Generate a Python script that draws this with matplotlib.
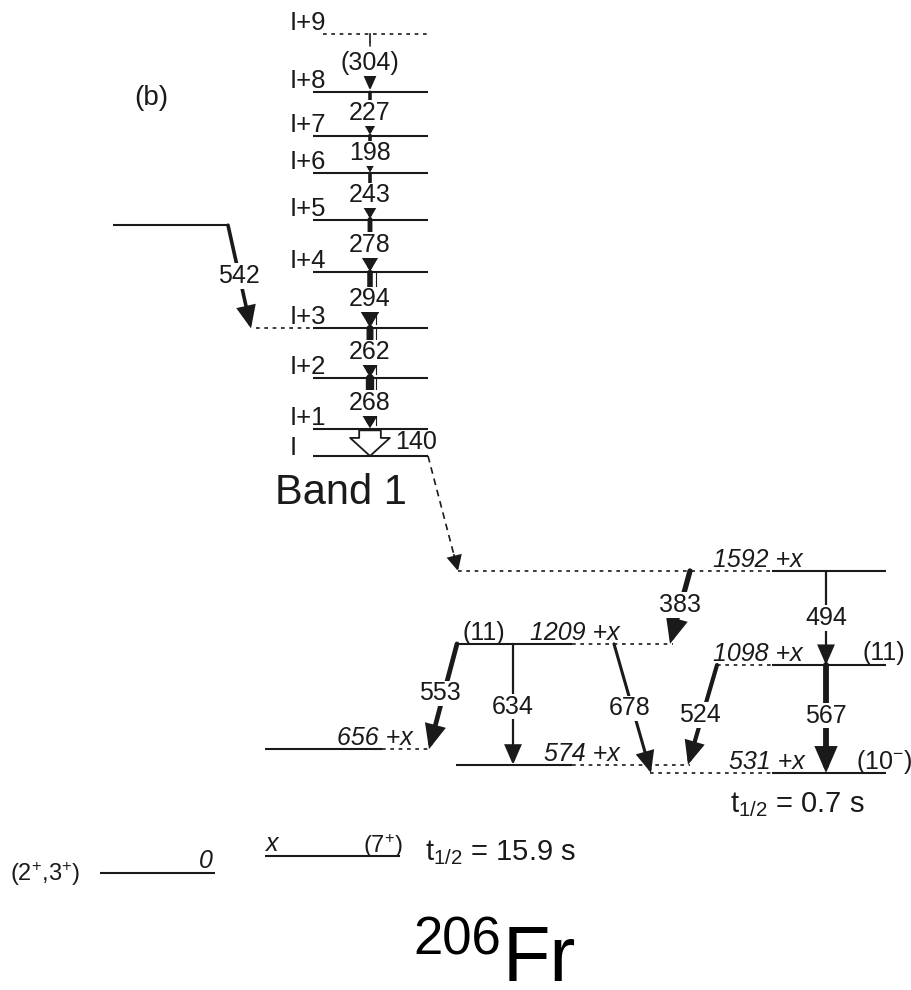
import numpy as np
import matplotlib.pyplot as plt

plt.rcParams['font.family'] = ['Liberation Sans', 'DejaVu Sans']
plt.rcParams['mathtext.fontset'] = 'custom'
plt.rcParams['mathtext.rm'] = 'Liberation Sans'
plt.rcParams['mathtext.it'] = 'Liberation Sans:italic'

# --- data -------------------------------------------------------------
# Band 1: levels I ... I+9 and the in-band gamma energies (keV)
band_labels = ["I", "I+1", "I+2", "I+3", "I+4", "I+5", "I+6", "I+7", "I+8", "I+9"]
band_gammas = [140, 268, 262, 294, 278, 243, 198, 227, 304]
feed_gamma = 542          # feeds I+3 from the side
feed_level = "I+3"

# levels below the band (energy relative to x, keV)
low_levels = [531, 574, 656, 1098, 1209, 1592]
low_spins = {531: "(10$^{\\mathregular{-}}$)", 1098: "(11)", 1209: "(11)"}
# transitions (initial level, final level) and their gamma energies
low_gammas = [(1592, 1209), (1592, 1098), (1098, 531), (1209, 656),
              (1209, 574), (1209, 531), (1098, 574)]
low_gamma_e = [383, 494, 567, 553, 634, 678, 524]

isomer_spin = "(7$^{\\mathregular{+}}$)"
isomer_t12 = "15.9 s"
gs_spin = "(2$^{\\mathregular{+}}$,3$^{\\mathregular{+}}$)"
t12_531 = "0.7 s"

# --- layout -----------------------------------------------------------
PX = 5200 / 990           # keV per pixel on the vertical axis
BAND_BASE = 2196          # where level I is drawn
X_POS = 95                # where level x is drawn
GS_POS = 5                # where the ground state is drawn
INK = "#1a1a1a"
DOT = (0, (2.2, 2.8))
FS = 18

fig = plt.figure(figsize=(9.12, 9.9), dpi=100)
ax = fig.add_axes([0, 0, 1, 1])
ax.set_xlim(0, 912)
ax.set_ylim(-609, 4591)
ax.axis("off")


def hline(x0, x1, e, dashed=False):
    ax.plot([x0, x1], [e, e], color=INK, lw=1.2 if dashed else 1.5,
            ls=DOT if dashed else "-", solid_capstyle="butt")


def arrow(x0, e0, x1, e1, lw, hl=0.6, hw=0.26, ms=20):
    ax.annotate("", xy=(x1, e1), xytext=(x0, e0),
                arrowprops=dict(arrowstyle=f"-|>,head_length={hl},head_width={hw}",
                                lw=lw, color=INK, shrinkA=0, shrinkB=0,
                                mutation_scale=ms, joinstyle="miter"))


def glabel(x, e, txt, size=FS, ha="center"):
    ax.text(x, e, txt, ha=ha, va="center", fontsize=size, color=INK, zorder=6,
            bbox=dict(fc="white", ec="none", pad=0.5))


# --- Band 1 -----------------------------------------------------------
band_e = BAND_BASE + np.concatenate([[0], np.cumsum(band_gammas)])
for lab, e in zip(band_labels, band_e):
    if lab == "I+9":
        hline(323, 428, e, dashed=True)
    else:
        hline(313, 428, e)
    off = 1 if lab == "I" else 4
    ax.text(290, e + off * PX, lab, fontsize=FS + 0.5, color=INK, va="baseline", ha="left")

band_lw = [None, 6, 5, 4, 3.5, 2.6, 2.6, 2.6, 1.2]
band_thin = [False, True, True, True, False, False, False, False, False]
BX = 370
for k in range(1, len(band_gammas)):
    e_hi, e_lo = band_e[k + 1], band_e[k]
    if k == len(band_gammas) - 1:
        # tentative (304): dashed line
        ax.plot([BX, BX], [e_hi, e_hi - 8 * PX], color=INK, lw=1.2)
        ax.plot([BX, BX], [e_hi - 8 * PX, e_lo + 12 * PX], color=INK, lw=1.1, ls=(0, (3, 3)))
        arrow(BX, e_lo + 16 * PX, BX, e_lo + 2 * PX, 1.4, hl=0.45, hw=0.2, ms=18)
        glabel(BX, (e_hi + e_lo) / 2, f"({band_gammas[k]})")
        continue
    arrow(BX, e_hi, BX, e_lo + 1 * PX, band_lw[k], hl=0.3, hw=0.18, ms=18)
    if band_thin[k]:
        ax.plot([BX + 6, BX + 6], [e_hi, e_lo + 4 * PX], color=INK, lw=0.8)
    glabel(BX, (e_hi + e_lo) / 2 + 1 * PX, str(band_gammas[k]))

# hollow 140 keV arrow I+1 -> I
ax.annotate("", xy=(BX, band_e[0]), xytext=(BX, band_e[1] - 1 * PX),
            arrowprops=dict(arrowstyle="simple,head_length=0.5,head_width=1.1,tail_width=0.6",
                            fc="white", ec=INK, lw=1.3, shrinkA=0, shrinkB=0,
                            mutation_scale=26))
ax.text(395, (band_e[0] + band_e[1]) / 2 + 1 * PX, str(band_gammas[0]),
        fontsize=FS, color=INK, va="center", ha="left")

# side feeding 542
e_feed_to = band_e[band_labels.index(feed_level)]
e_feed = e_feed_to + feed_gamma
hline(113, 228, e_feed)
arrow(228, e_feed, 251, e_feed_to, 2.6)
glabel(239, (e_feed + e_feed_to) / 2 + 1 * PX, str(feed_gamma))
hline(256, 312, e_feed_to, dashed=True)

ax.text(275, band_e[0] - 48 * PX, "Band 1", fontsize=30, color=INK, va="baseline")
ax.text(134, band_e[-1] - 71 * PX, "(b)", fontsize=20, color=INK, va="baseline")

# decay out of the band into 1592 + x
ax.plot([428, 455], [band_e[0], 1592 + 12 * PX], color=INK, lw=1.2, ls=(0, (4, 3)))
arrow(454, 1592 + 16 * PX, 458, 1592, 1.4, hl=0.5, hw=0.25, ms=18)

# --- low-lying levels --------------------------------------------------
level_draw = {
    1592: ((772, 886), (458, 772), 803),
    1209: ((455, 572), (572, 673), 620),
    1098: ((772, 886), (717, 772), 803),
    656: ((265, 382), (382, 430), 413),
    574: ((456, 572), (572, 690), 620),
    531: ((772, 886), (650, 772), 805),
}
for e in low_levels:
    solid, dash, xr = level_draw[e]
    hline(*solid, e)
    hline(*dash, e, dashed=True)
    ax.text(xr, e + 4 * PX, f"{e} +x", fontsize=FS, style="italic", color=INK,
            ha="right", va="baseline")

ax.text(484, 1209 + 4 * PX, low_spins[1209], fontsize=FS, color=INK, ha="center", va="baseline")
ax.text(884, 1098 + 5 * PX, low_spins[1098], fontsize=FS, color=INK, ha="center", va="baseline")
ax.text(884, 531 + 4 * PX, low_spins[531], fontsize=FS, color=INK, ha="center", va="baseline")

gamma_draw = {
    (1592, 1209): (690, 670, 3.8, 680, 0.47),
    (1592, 1098): (826, 826, 1.6, 826, 0.5),
    (1098, 531): (826, 826, 4.2, 826, 0.47),
    (1209, 656): (457, 429, 3.4, 440, 0.47),
    (1209, 574): (513, 513, 1.6, 513, 0.52),
    (1209, 531): (614, 651, 2.2, 630, 0.5),
    (1098, 574): (717, 688, 3.0, 700, 0.5),
}
for (ei, ef), eg in zip(low_gammas, low_gamma_e):
    x0, x1, lw, lx, frac = gamma_draw[(ei, ef)]
    arrow(x0, ei, x1, ef, lw)
    glabel(lx, ei - frac * (ei - ef), str(eg))

# --- isomer and ground state --------------------------------------------
hline(265, 400, X_POS)
ax.text(266, X_POS + 5 * PX, "x", fontsize=FS, style="italic", color=INK, va="baseline")
ax.text(383, X_POS + 3 * PX, isomer_spin, fontsize=17, color=INK, ha="center", va="baseline")
ax.text(425, X_POS - 4 * PX, "t$_{\\mathregular{1/2}}$ = " + isomer_t12, fontsize=21,
        color=INK, va="baseline")

hline(100, 215, GS_POS)
ax.text(213, GS_POS + 5 * PX, "0", fontsize=FS, style="italic", color=INK, ha="right", va="baseline")
ax.text(10, GS_POS - 8 * PX, gs_spin, fontsize=17, color=INK, va="baseline")

ax.text(730, 531 - 39 * PX, "t$_{\\mathregular{1/2}}$ = " + t12_531, fontsize=21,
        color=INK, va="baseline")

# nucleus label
ax.text(501, X_POS - 99 * PX, "206", fontsize=38, color="black", ha="right", va="baseline")
ax.text(503, X_POS - 125 * PX, "Fr", fontsize=56, color="black", ha="left", va="baseline")

fig.savefig("out.png", dpi=100)
